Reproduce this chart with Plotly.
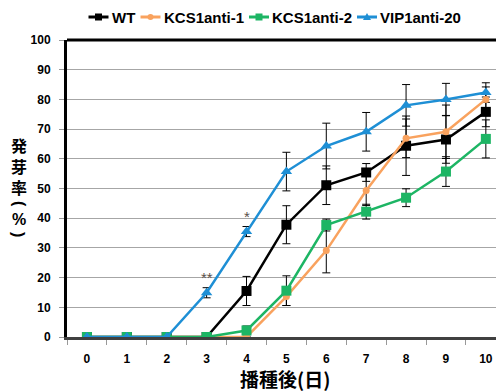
import plotly.graph_objects as go

days = [0, 1, 2, 3, 4, 5, 6, 7, 8, 9, 10]
x_labels = ["0", "1", "2", "3", "4", "5", "6", "7", "8", "9", "10"]
y_ticks = [0, 10, 20, 30, 40, 50, 60, 70, 80, 90, 100]

wt = [0, 0, 0, 0, 15.5, 37.8, 51.1, 55.4, 64.4, 66.5, 75.8]
wt_err = [0, 0, 0, 0, 4.9, 6.4, 6.5, 3.0, 10.0, 8.0, 5.0]
kcs1 = [0, 0, 0, 0, 0, 13.6, 29.1, 49.3, 66.9, 69.1, 80.0]
kcs1_err = [0, 0, 0, 0, 0, 3.0, 7.5, 5.0, 6.5, 9.0, 4.2]
kcs2 = [0, 0, 0, 0, 2.2, 15.6, 37.7, 42.2, 46.9, 55.7, 66.7]
kcs2_err = [0, 0, 0, 0, 1.5, 5.0, 2.0, 2.5, 3.0, 5.0, 6.4]
vip = [0, 0, 0, 14.9, 35.5, 55.7, 64.3, 69.1, 78.0, 80.0, 82.3]
vip_err = [0, 0, 0, 1.7, 1.7, 6.5, 7.7, 6.5, 7.0, 5.4, 3.3]

names = ["WT", "KCS1anti-1", "KCS1anti-2", "VIP1anti-20"]
colors = ["#000000", "#F9A25E", "#1DB564", "#1E8FD5"]
symbols = ["square", "circle", "square", "triangle-up"]
sizes = [10, 7, 10, 10]

# y title characters: (char, rotation)
y_title_chars = [("発", 0), ("芽", 0), ("率", 0), ("(", 90), ("%", 0), (")", 90)]
x_title = "播種後(日)"

# figure drawn at 496x383 because the page adds an 8px body margin
W, H = 496, 383
L, R, T, B = 59, 1, 32, 54
PW, PH = W - L - R, H - T - B


def px(xf):
    return (xf - L) / PW


def py(yf):
    return (H - B - yf) / PH


fig = go.Figure()
series = [(wt, wt_err), (kcs1, kcs1_err), (kcs2, kcs2_err), (vip, vip_err)]
for (vals, errs), name in zip(series, names):
    fig.add_trace(go.Scatter(
        x=days, y=vals, mode="markers", showlegend=False,
        marker=dict(size=1, color="rgba(0,0,0,0)"),
        error_y=dict(type="data", array=errs, visible=True, color="#000000",
                     thickness=1, width=4),
        hoverinfo="skip"))
for (vals, errs), name, c, s, sz in zip(series, names, colors, symbols, sizes):
    fig.add_trace(go.Scatter(
        x=days, y=vals, mode="lines+markers", name=name, showlegend=False,
        line=dict(color=c, width=2.5),
        marker=dict(color=c, symbol=s, size=sz)))

fig.add_annotation(x=3, y=20.2, text="**", showarrow=False,
                   font=dict(size=15, color="#5a5048", family="Liberation Sans"))
fig.add_annotation(x=4, y=40.6, text="*", showarrow=False,
                   font=dict(size=15, color="#5a5048", family="Liberation Sans"))

# manual legend (line + marker + label)
leg_y = py(9)
sym_centers = [90.5, 142.5, 251, 359]
text_starts = [102, 154, 262, 370]
for name, c, s, xc, xt in zip(names, colors, symbols, sym_centers, text_starts):
    ax = px(xc)
    fig.add_shape(type="line", xref="paper", yref="paper", xsizemode="pixel",
                  xanchor=ax, x0=-10, x1=10, y0=leg_y, y1=leg_y,
                  line=dict(color=c, width=3))
    if s == "square":
        fig.add_shape(type="rect", xref="paper", yref="paper", xsizemode="pixel",
                      ysizemode="pixel", xanchor=ax, yanchor=leg_y,
                      x0=-3.5, x1=3.5, y0=-3.5, y1=3.5, fillcolor=c, line=dict(width=0))
    elif s == "circle":
        fig.add_shape(type="circle", xref="paper", yref="paper", xsizemode="pixel",
                      ysizemode="pixel", xanchor=ax, yanchor=leg_y,
                      x0=-3, x1=3, y0=-3, y1=3, fillcolor=c, line=dict(width=0))
    else:
        fig.add_shape(type="path", xref="paper", yref="paper", xsizemode="pixel",
                      ysizemode="pixel", xanchor=ax, yanchor=leg_y,
                      path="M-4,-3 L4,-3 L0,4 Z", fillcolor=c, line=dict(width=0))
    fig.add_annotation(xref="paper", yref="paper", x=px(xt), y=leg_y,
                       xanchor="left", yanchor="middle", text="<b>" + name + "</b>",
                       showarrow=False,
                       font=dict(size=15, family="Liberation Sans", color="#000000"))

# vertical stacked y title
y_char_pos = [137, 158, 179, 196, 211, 226]
for (ch, rot), yy in zip(y_title_chars, y_char_pos):
    fam = "Noto Sans CJK JP" if rot == 0 and ch != "%" else "Liberation Sans"
    size = 16
    fig.add_annotation(xref="paper", yref="paper", x=px(11), y=py(yy),
                       xanchor="center", yanchor="middle", text="<b>" + ch + "</b>",
                       showarrow=False, textangle=rot,
                       font=dict(size=size, family=fam, color="#000000"))

# x title
fig.add_annotation(xref="paper", yref="paper", x=px(277), y=py(370),
                   xanchor="center", yanchor="middle", text="<b>" + x_title + "</b>",
                   showarrow=False,
                   font=dict(size=19, family="Noto Sans CJK JP", color="#000000"))

# frame top and right
fig.add_shape(type="line", xref="paper", yref="paper", x0=0, x1=1, y0=1, y1=1,
              line=dict(color="#000000", width=3))
fig.add_shape(type="line", xref="paper", yref="paper", x0=1, x1=1, y0=0, y1=1,
              line=dict(color="#000000", width=3))

fig.update_layout(
    width=W, height=H,
    margin=dict(l=L, r=R, t=T, b=B, autoexpand=False),
    paper_bgcolor="white", plot_bgcolor="white",
    font=dict(family="Liberation Sans", color="#000000"),
    showlegend=False,
    xaxis=dict(range=[-0.5, 10.43], tickmode="array", tickvals=days, ticktext=x_labels,
               automargin=False,
               showgrid=False, zeroline=False, showline=True, linecolor="#404040", linewidth=3,
               ticks="", ticklabelstandoff=9,
               tickfont=dict(size=12, family="Liberation Sans", weight="bold"),
               minor=dict(tickmode="linear", tick0=0.5, dtick=1, ticks="outside", ticklen=5,
                          tickcolor="#999999", showgrid=False)),
    yaxis=dict(range=[0, 100], tickmode="array", tickvals=y_ticks,
               ticktext=[str(v) for v in y_ticks], automargin=False,
               showgrid=True, gridcolor="#A6A6A6", gridwidth=1, zeroline=False,
               showline=True, linecolor="#000000", linewidth=3,
               ticks="outside", ticklen=5, tickcolor="#999999", ticklabelstandoff=6,
               tickfont=dict(size=12, family="Liberation Sans", weight="bold")),
)

fig.write_html("out.html")
